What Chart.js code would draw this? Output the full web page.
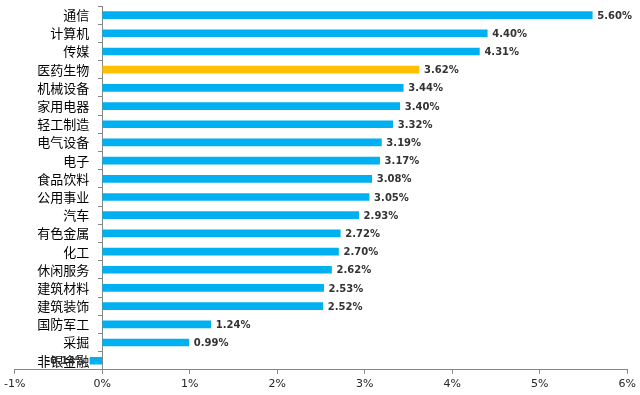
<!DOCTYPE html>
<html><head><meta charset="utf-8">
<script src="https://cdn.jsdelivr.net/npm/chart.js@4/dist/chart.umd.min.js"></script>
<style>html,body{margin:0;padding:0;background:#fff;}#wrap{width:640px;height:395px;}</style>
</head><body><div id="wrap"><canvas id="c" width="640" height="395"></canvas></div>
<script>
const categories = ['通信','计算机','传媒','医药生物','机械设备','家用电器','轻工制造','电气设备','电子','食品饮料','公用事业','汽车','有色金属','化工','休闲服务','建筑材料','建筑装饰','国防军工','采掘','非银金融'];
const values = [5.60,4.40,4.31,3.62,3.44,3.40,3.32,3.19,3.17,3.08,3.05,2.93,2.72,2.70,2.62,2.53,2.52,1.24,0.99,-0.14];
const highlight = '医药生物';
const xTicks = [-1,0,1,2,3,4,5,6];

const colors = categories.map(c => c === highlight ? '#FFC000' : '#00B0F0');

const labelPlugin = {
  id: 'barLabels',
  afterDatasetsDraw(chart) {
    const ctx = chart.ctx;
    const meta = chart.getDatasetMeta(0);
    const x0 = chart.scales.x.getPixelForValue(0);
    ctx.save();
    ctx.textBaseline = 'middle';
    // category labels next to the axis at zero
    ctx.font = '13px "Noto Sans CJK SC", sans-serif';
    ctx.fillStyle = '#000000';
    ctx.textAlign = 'right';
    meta.data.forEach((bar, i) => {
      ctx.fillText(categories[i], x0 - 13, bar.y);
    });
    // value labels
    ctx.font = 'bold 10px "DejaVu Sans", sans-serif';
    ctx.fillStyle = '#333333';
    meta.data.forEach((bar, i) => {
      const v = values[i];
      const txt = v.toFixed(2) + '%';
      if (v >= 0) { ctx.textAlign = 'left'; ctx.fillText(txt, bar.x + 5, bar.y + 1); }
      else { ctx.textAlign = 'right'; ctx.fillText(txt, bar.x - 5, bar.y + 1); }
    });
    ctx.restore();
  }
};

new Chart(document.getElementById('c'), {
  type: 'bar',
  data: { labels: categories, datasets: [{ data: values, backgroundColor: colors, barThickness: 7 }] },
  options: {
    indexAxis: 'y',
    responsive: false,
    animation: false,
    layout: { padding: { left: 2, right: 6, top: 6, bottom: 0 } },
    plugins: { legend: { display: false }, tooltip: { enabled: false } },
    scales: {
      x: {
        min: -1, max: 6,
        afterBuildTicks: s => { s.ticks = xTicks.map(v => ({ value: v })); },
        ticks: { callback: v => v + '%', color: '#262626', font: { family: '"DejaVu Sans", sans-serif', size: 11 }, padding: 4, maxRotation: 0 },
        grid: { drawOnChartArea: false, color: '#868686', tickLength: 4 },
        border: { color: '#868686' }
      },
      y: {
        position: { x: 0 },
        offset: true,
        ticks: { display: false },
        grid: { drawOnChartArea: false, offset: true, color: '#868686', tickLength: 4 },
        border: { color: '#868686' }
      }
    }
  },
  plugins: [labelPlugin]
});
</script></body></html>
